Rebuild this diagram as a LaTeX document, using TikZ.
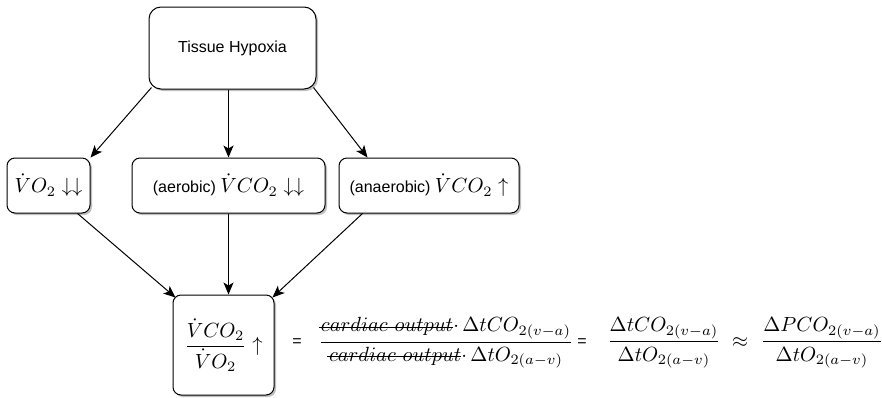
\documentclass[tikz,border=0pt]{standalone}
\usepackage{amsmath}
\usepackage{graphicx}
\usepackage{fontspec}
\newfontfamily\arial{Liberation Sans}
\usetikzlibrary{arrows.meta,shadows,calc}
\newsavebox\strikebox
\newcommand{\mystrike}[1]{\sbox\strikebox{$#1$}\kern-0.1em\rule[0.55ex]{\dimexpr\wd\strikebox+0.1em\relax}{0.04ex}\kern-\wd\strikebox\usebox\strikebox}
\newcommand{\sm}{\fontsize{16}{19}\selectfont\arial}
\newcommand{\mm}[1]{\scalebox{2.05}{$#1$}}
\begin{document}
\begin{tikzpicture}[x=1pt,y=1pt,
  box/.style={draw,line width=1pt,rounded corners=8pt,fill=white,inner sep=0pt,
    drop shadow={shadow xshift=2pt,shadow yshift=-2pt,opacity=0.25,fill=black}},
  arr/.style={line width=1pt,-{Stealth[length=12pt,width=10pt,inset=3pt]}},
  lbl/.style={inner sep=0pt}]
\useasboundingbox (0,0) rectangle (882,-397);
\node[box,rounded corners=12pt,minimum width=167pt,minimum height=82pt] (hyp) at (232.5,-48) {\sm Tissue Hypoxia};
\node[box,minimum width=83pt,minimum height=55pt] (b1) at (48.5,-185.5) {\mm{\dot VO_2\downarrow\downarrow}};
\node[box,minimum width=193pt,minimum height=55pt] (b2) at (228.5,-185.5) {{\sm (aerobic) }\mm{\dot VCO_2\downarrow\downarrow}};
\node[box,minimum width=180pt,minimum height=55pt] (b3) at (429,-185.5) {{\sm (anaerobic) }\mm{\dot VCO_2\uparrow}};
\node[box,minimum width=101pt,minimum height=100pt] (b4) at (223.5,-345) {\mm{\dfrac{\dot VCO_2}{\dot VO_2}\uparrow}};

\draw[arr] ($(hyp.south west)+(3,2)$) -- (b1.north east);
\draw[arr] (b2.north |- hyp.south) -- (b2.north);
\draw[arr] ($(hyp.south east)+(-3,2)$) -- ($(b3.north west)+(29,0)$);
\draw[arr] ($(b1.south east)+(-13,0)$) -- ($(b4.north west)+(3,-3)$);
\draw[arr] (b2.south) -- (b2.south |- b4.north);
\draw[arr] ($(b3.south west)+(24,0)$) -- ($(b4.north east)+(-2,-3)$);

\node[lbl] (eq1) at (297,-343) {\sm =};
\node[lbl] (f1) at (446,-343) {\mm{\dfrac{\mystrike{cardiac\ output}\mathord{\cdot}\,\Delta tCO_{2(v-a)}}{\mystrike{cardiac\ output}\mathord{\cdot}\,\Delta tO_{2(a-v)}}}};
\node[lbl] (eq2) at (582,-343) {\sm =};
\node[lbl] (f2) at (664,-343) {\mm{\dfrac{\Delta tCO_{2(v-a)}}{\Delta tO_{2(a-v)}}}};
\node[lbl] (eq3) at (740,-343) {\mm{\approx}};
\node[lbl] (f3) at (822,-343) {\mm{\dfrac{\Delta PCO_{2(v-a)}}{\Delta tO_{2(a-v)}}}};
\end{tikzpicture}
\end{document}
